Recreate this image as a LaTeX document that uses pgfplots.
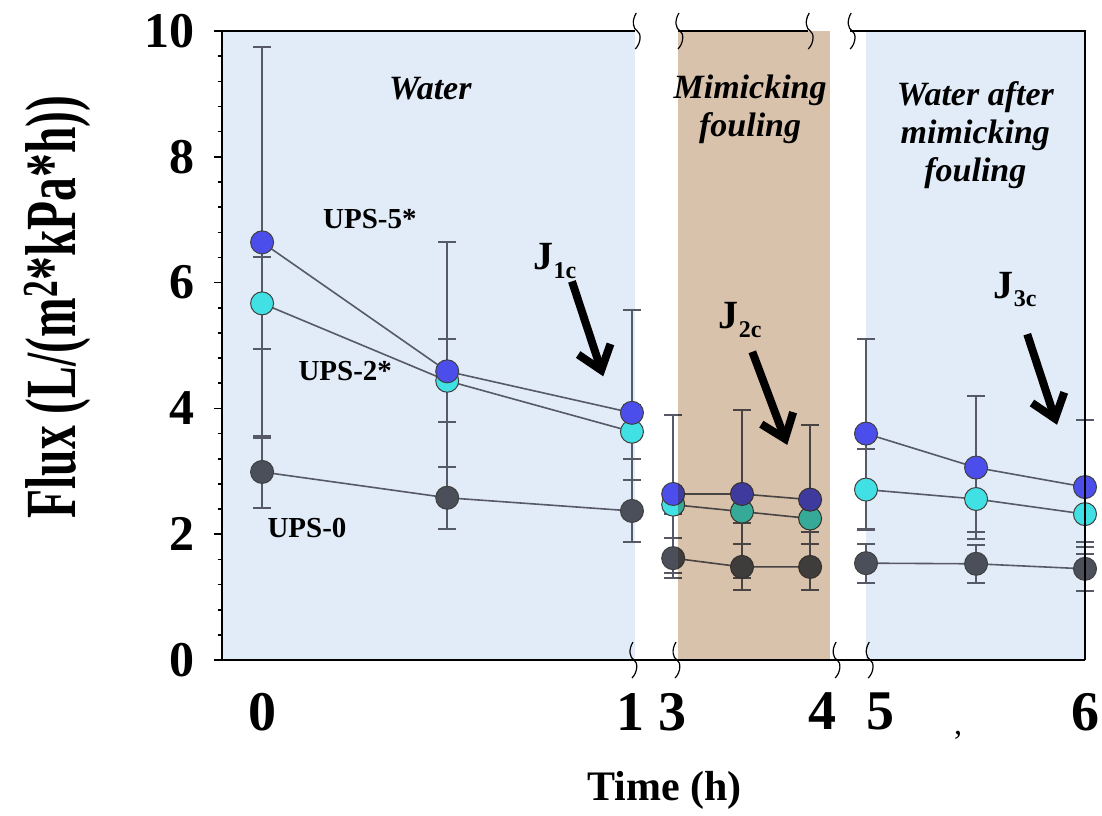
\documentclass[border=0pt]{standalone}
\usepackage{fontspec}
\setmainfont{Liberation Serif}
\usepackage{pgfplots}
\pgfplotsset{compat=1.18}
\usepackage{pgfplotstable}
\usetikzlibrary{arrows.meta}

\definecolor{bgblue}{RGB}{226,236,248}
\definecolor{bgtan}{RGB}{216,194,172}
\definecolor{linegrey}{RGB}{85,90,102}
\definecolor{ups5}{RGB}{75,78,235}
\definecolor{ups2}{RGB}{64,224,228}
\definecolor{ups0}{RGB}{75,79,90}

% x = plot position (broken axis): 0..1 -> 0..1 h, 1.117..1.489 -> 3..4 h, 1.641..2.236 -> 5..6 h
\pgfplotstableread{
x y err
0     6.64 3.11
0.503 4.59 2.05
1.005 3.93 1.63
nan   nan  nan
1.117 2.64 1.26
1.304 2.64 1.34
1.489 2.55 1.18
nan   nan  nan
1.641 3.60 1.51
1.940 3.06 1.13
2.236 2.75 1.07
}\upsfive
\pgfplotstableread{
x y err
0     5.67 0.73
0.503 4.44 0.66
1.005 3.63 0.43
nan   nan  nan
1.117 2.47 0.15
1.304 2.36 0.18
1.489 2.25 0.21
nan   nan  nan
1.641 2.71 0.65
1.940 2.56 0.52
2.236 2.32 0.44
}\upstwo
\pgfplotstableread{
x y err
0     2.99 0.57
0.503 2.58 0.49
1.005 2.37 0.49
nan   nan  nan
1.117 1.62 0.32
1.304 1.48 0.37
1.489 1.48 0.37
nan   nan  nan
1.641 1.54 0.31
1.940 1.53 0.30
2.236 1.45 0.35
}\upszero

\tikzset{
  brk/.pic={\draw[black, line width=0.6bp] (0.5bp,9bp) .. controls (-2bp,5bp) and (-1bp,1bp) .. (1bp,0bp)
            .. controls (3bp,-1bp) and (3bp,-6bp) .. (0bp,-9bp);},
  bigarrow/.style={black, line width=4bp, -{Straight Barb[length=11bp, width=17bp, line width=4bp]}},
  lbl/.style={font=\bfseries\fontsize{14.5bp}{17bp}\selectfont},
  reg/.style={font=\bfseries\itshape\fontsize{17bp}{19bp}\selectfont, align=center},
}
\pgfplotsset{
  series/.style={linegrey, line width=0.8bp, mark=*, mark size=5.75bp,
    mark options={fill=#1, draw=black!75, line width=0.5bp},
    error bars/.cd, y dir=both, y explicit,
    error bar style={linegrey, line width=1bp},
    error mark options={rotate=90, mark size=4.5bp, line width=1bp, linegrey}},
}

\newcommand{\Jc}[1]{\fontsize{20bp}{20bp}\selectfont J\raisebox{-0.22em}{\fontsize{12bp}{12bp}\selectfont #1c}}

\begin{document}
\begin{tikzpicture}
\begin{axis}[
  set layers,
  scale only axis, width=431.5bp, height=314.5bp,
  xmin=-0.109, xmax=2.236, ymin=0, ymax=10,
  axis on top, clip=false,
  axis x line*=bottom, axis y line*=left,
  axis line style={-, line width=1bp},
  xtick={0,1,1.114,1.522,1.679,2.236}, xticklabels={0,1,3,4,5,6},
  major x tick style={draw=none},
  ytick={0,2,...,10}, minor y tick num=4,
  tick align=outside, major tick length=4bp, minor tick length=2bp,
  every tick/.style={black, line width=0.8bp},
  /pgf/number format/assume math mode=true,
  xticklabel style={font=\bfseries\fontsize{28bp}{28bp}\selectfont, yshift=-9bp},
  yticklabel style={font=\bfseries\fontsize{25bp}{25bp}\selectfont, xshift=-6bp},
  xlabel={Time (h)},
  xlabel style={font=\bfseries\fontsize{21bp}{21bp}\selectfont, at={(axis description cs:0.513,-0.207)}, anchor=center},
  ylabel={\scalebox{0.66}[1]{Flux (L/(m\textsuperscript{2}*kPa*h))}},
  ylabel style={font=\bfseries\fontsize{36bp}{36bp}\selectfont, at={(axis description cs:-0.170,0.561)}, anchor=base},
  unbounded coords=jump,
]
% background regions
\begin{pgfonlayer}{axis background}
\fill[bgblue] (axis cs:-0.109,0) rectangle (axis cs:1.014,10);
\fill[bgblue] (axis cs:1.641,0) rectangle (axis cs:2.236,10);
\end{pgfonlayer}

\addplot[series=ups0] table[x=x, y=y, y error=err] {\upszero};
\addplot[series=ups2] table[x=x, y=y, y error=err] {\upstwo};
\addplot[series=ups5] table[x=x, y=y, y error=err] {\upsfive};

% mimicking-fouling region, laid over the points
\begin{pgfonlayer}{axis descriptions}
\fill[bgtan, blend mode=multiply] (axis cs:1.130,0) rectangle (axis cs:1.543,10);
\end{pgfonlayer}

\begin{pgfonlayer}{axis foreground}
% frame: broken top line and right line
\draw[black, line width=1bp] (axis cs:-0.109,10) -- (axis cs:1.014,10);
\draw[black, line width=1bp] (axis cs:1.130,10) -- (axis cs:1.484,10);
\draw[black, line width=1bp] (axis cs:1.598,10) -- (axis cs:2.236,10) -- (axis cs:2.236,0);

% axis break marks
\path (axis cs:1.014,10) pic{brk};
\path (axis cs:1.130,10) pic{brk};
\path (axis cs:1.484,10) pic{brk};
\path (axis cs:1.598,10) pic{brk};
\path (axis cs:1.005,0) pic{brk};
\path (axis cs:1.122,0) pic{brk};
\path (axis cs:1.557,0) pic{brk};
\path (axis cs:1.647,0) pic{brk};

% region titles
\node[reg] at (axis cs:0.457,9.08) {Water};
\node[reg] at (axis cs:1.326,8.76) {Mimicking\\fouling};
\node[reg] at (axis cs:1.938,8.34) {Water after\\mimicking\\fouling};

% series labels
\node[lbl] at (axis cs:0.293,7.01) {UPS-5*};
\node[lbl] at (axis cs:0.226,4.59) {UPS-2*};
\node[lbl] at (axis cs:0.122,2.10) {UPS-0};

% J markers
\node[font=\bfseries] at (axis cs:0.796,6.34) {\Jc{1}};
\draw[bigarrow] (axis cs:0.842,6.02) -- (axis cs:0.927,4.51);
\node[font=\bfseries] at (axis cs:1.299,5.41) {\Jc{2}};
\draw[bigarrow] (axis cs:1.332,4.90) -- (axis cs:1.427,3.42);
\node[font=\bfseries] at (axis cs:2.046,5.89) {\Jc{3}};
\draw[bigarrow] (axis cs:2.079,5.18) -- (axis cs:2.160,3.74);

\node[font=\fontsize{16bp}{16bp}\selectfont] at (axis cs:1.891,-1.19) {,};
\end{pgfonlayer}

\coordinate (bbA) at (axis description cs:-0.2572,-0.2464);
\coordinate (bbB) at (axis description cs:1.0197,1.0493);
\end{axis}
\pgfresetboundingbox
\useasboundingbox (bbA) rectangle (bbB);
\end{tikzpicture}
\end{document}
